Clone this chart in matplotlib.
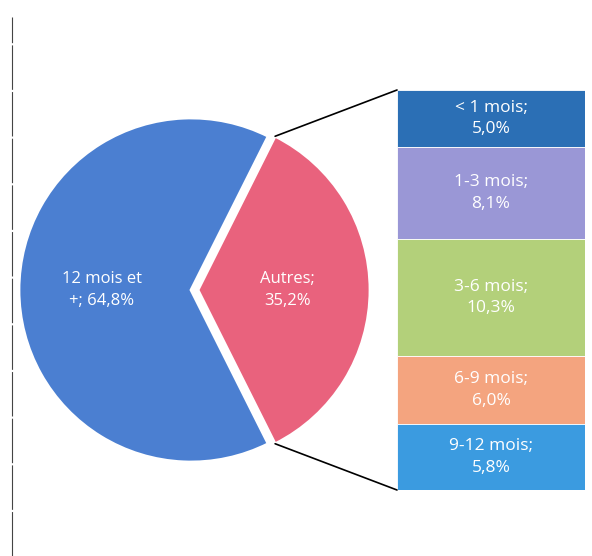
import numpy as np
import matplotlib
matplotlib.use("Agg")
import matplotlib.pyplot as plt
from matplotlib.patches import ConnectionPatch
from matplotlib.lines import Line2D

# ---------------------------------------------------------------------
# DADES
# ---------------------------------------------------------------------

pie_labels = ["Autres;\n35,2%", "12 mois et\n+; 64,8%"]
pie_values = [35.2, 64.8]
pie_colors = ["#e9627d", "#4b7fd1"]

bar_labels = ["< 1 mois;\n5,0%", "1-3 mois;\n8,1%", "3-6 mois;\n10,3%",
              "6-9 mois;\n6,0%", "9-12 mois;\n5,8%"]
bar_values = [5.0, 8.1, 10.3, 6.0, 5.8]
bar_colors = ["#2b6fb5", "#9a97d6", "#b3d07a", "#f4a47f", "#3b9be0"]

plt.rcParams["font.family"] = ["Open Sans", "DejaVu Sans"]

W, H = 592, 556
fig = plt.figure(figsize=(W / 100, H / 100), dpi=100)

# ---------------------------------------------------------------------
# PASTÍS (coordenades en píxels)
# ---------------------------------------------------------------------
ax_pie = fig.add_axes([0, 0, 1, 1])

start = -pie_values[0] / 100 * 360 / 2
wedges, texts = ax_pie.pie(
    pie_values,
    labels=pie_labels,
    colors=pie_colors,
    startangle=start,
    center=(191, 266),
    radius=172,
    explode=[7, 0],
    labeldistance=0.52,
    wedgeprops=dict(edgecolor="white", linewidth=2),
    frame=True,
)
ax_pie.set_xlim(0, W)
ax_pie.set_ylim(0, H)
ax_pie.set_aspect("equal")
ax_pie.axis("off")

for t in texts:
    t.set_ha("center")
    t.set_va("center")
    t.set_color("white")
    t.set_fontsize(12)
    t.set_linespacing(1.45)

# ---------------------------------------------------------------------
# BARRA APILADA
# ---------------------------------------------------------------------
total = sum(bar_values)
ax_bar = fig.add_axes([397 / W, 66 / H, 188 / W, 400 / H])
bottom = total
for lab, val, col in zip(bar_labels, bar_values, bar_colors):
    bottom -= val
    ax_bar.bar(0, val, bottom=bottom, width=1.0, color=col,
               edgecolor="white", linewidth=0.6)
    ax_bar.text(0, bottom + val / 2, lab, ha="center", va="center",
                color="white", fontsize=12.5, linespacing=1.45)
ax_bar.set_xlim(-0.5, 0.5)
ax_bar.set_ylim(0, total)
ax_bar.axis("off")

# Línies de connexió
w = wedges[0]
cx, cy = w.center
for ang, ybar in [(w.theta2, total), (w.theta1, 0)]:
    px = cx + w.r * np.cos(np.radians(ang))
    py = cy + w.r * np.sin(np.radians(ang))
    con = ConnectionPatch(xyA=(-0.5, ybar), coordsA=ax_bar.transData,
                          xyB=(px, py), coordsB=ax_pie.transData,
                          color="black", linewidth=1.2)
    fig.add_artist(con)

# Vora esquerra de l'escaneig
fig.add_artist(Line2D([12 / W, 12 / W], [0, 0.97], color="#444444",
                      linewidth=0.8, linestyle=(0, (40, 2))))

fig.savefig("out.png", dpi=100)
